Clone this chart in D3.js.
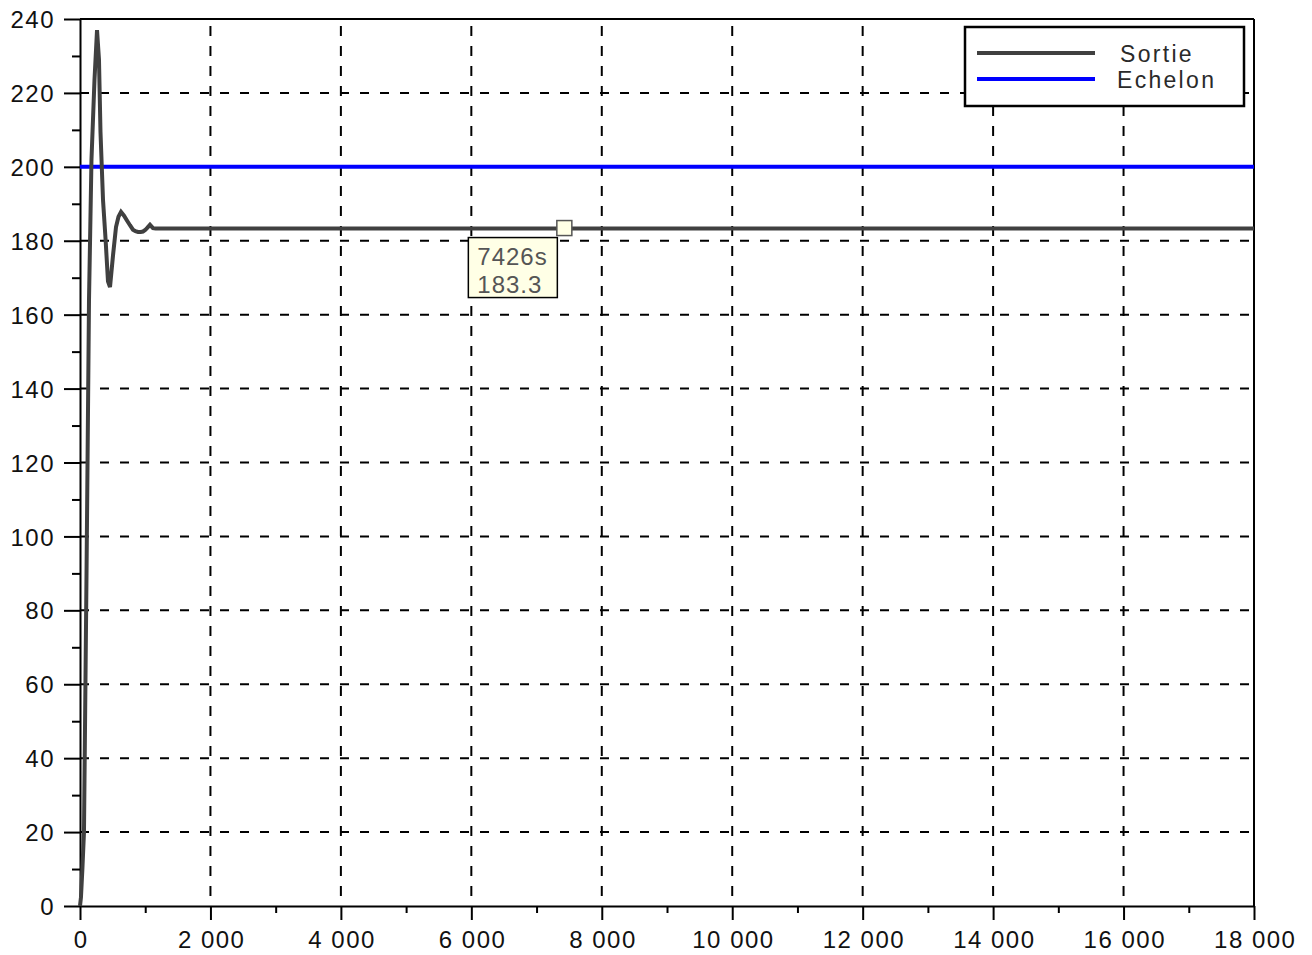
<!DOCTYPE html>
<html>
<head>
<meta charset="utf-8">
<script src="https://cdn.jsdelivr.net/npm/d3@7"></script>
<style>
  html, body { margin: 0; padding: 0; background: #fff; }
  svg { display: block; }
  text { font-family: "Liberation Sans", Arial, sans-serif; }
</style>
</head>
<body>
<svg id="chart" width="1312" height="955"></svg>
<script>
// ---- data ----
const sortieTime  = [0, 15, 38, 61, 100, 138, 176, 222, 261, 291, 314, 353, 391, 429, 460, 506, 552, 590, 629, 675, 720, 766, 812, 850, 890, 930, 966, 1000, 1027, 1073, 1119, 1160, 18000];
const sortieValue = [0, 2.4, 10.5, 20, 90, 164, 202, 223.5, 237, 229, 209.5, 191, 180.7, 169, 167.5, 176, 183.7, 186.5, 187.8, 186.8, 185.5, 184.2, 183, 182.6, 182.4, 182.4, 182.5, 182.9, 183.4, 184.3, 183.4, 183.3, 183.3];
const echelonTime  = [0, 18000];
const echelonValue = [200, 200];
const seriesNames  = ["Sortie", "Echelon"];
const xMajorTicks = [0, 2000, 4000, 6000, 8000, 10000, 12000, 14000, 16000, 18000];
const xMinorTicks = [1000, 3000, 5000, 7000, 9000, 11000, 13000, 15000, 17000];
const yMajorTicks = [0, 20, 40, 60, 80, 100, 120, 140, 160, 180, 200, 220, 240];
const yMinorTicks = [10, 30, 50, 70, 90, 110, 130, 150, 170, 190, 210, 230];
const datatip = { t: 7426, v: 183.3 };

// ---- layout ----
const L = 80, R = 1254, T = 19, B = 906;
const seriesColors = ["#404040", "#0000ff"];

const svg = d3.select("#chart");
const x = d3.scaleLinear().domain([0, 18000]).range([L, R]);
const y = d3.scaleLinear().domain([0, 240]).range([B, T]);

const loc = d3.formatLocale({ decimal: ".", thousands: " ", grouping: [3], currency: ["", ""] });
const fmt = loc.format(",d");

// grid
const grid = svg.append("g").attr("stroke", "#000").attr("stroke-width", 2).attr("fill", "none");
grid.selectAll("line.h").data(yMajorTicks.filter(v => v > 0 && v < 240)).enter().append("line")
  .attr("x1", L).attr("x2", R).attr("y1", d => y(d)).attr("y2", d => y(d))
  .attr("stroke-dasharray", "9,11");
grid.selectAll("line.v").data(xMajorTicks.filter(v => v > 0 && v < 18000)).enter().append("line")
  .attr("x1", d => x(d)).attr("x2", d => x(d)).attr("y1", B).attr("y2", T)
  .attr("stroke-dasharray", "10,10").attr("stroke-dashoffset", 10);

// frame (top and right)
svg.append("line").attr("x1", L).attr("x2", R).attr("y1", T).attr("y2", T).attr("stroke", "#000").attr("stroke-width", 2);
svg.append("line").attr("x1", R).attr("x2", R).attr("y1", T).attr("y2", B).attr("stroke", "#000").attr("stroke-width", 2);

// axes
function styleAxis(g) {
  g.select(".domain").attr("stroke", "#000").attr("stroke-width", 2);
  g.selectAll(".tick line").attr("stroke", "#000").attr("stroke-width", 2);
}
const xAxis = svg.append("g").attr("transform", `translate(0,${B})`)
  .call(d3.axisBottom(x).tickValues(xMajorTicks).tickSize(14).tickSizeOuter(0).tickFormat(fmt));
styleAxis(xAxis);
xAxis.selectAll(".tick text").attr("y", 42).attr("dy", 0).attr("dx", "0.75px")
  .attr("font-size", 24).attr("letter-spacing", "1.5px").attr("fill", "#111")
  .attr("font-family", '"Liberation Sans", Arial, sans-serif');
const xMinor = svg.append("g").attr("transform", `translate(0,${B})`)
  .call(d3.axisBottom(x).tickValues(xMinorTicks).tickSize(7).tickSizeOuter(0).tickFormat(""));
styleAxis(xMinor); xMinor.select(".domain").remove();

const yAxis = svg.append("g").attr("transform", `translate(${L},0)`)
  .call(d3.axisLeft(y).tickValues(yMajorTicks).tickSize(16).tickSizeOuter(0).tickFormat(fmt));
styleAxis(yAxis);
yAxis.selectAll(".tick text").attr("x", -25).attr("dy", "0.36em")
  .attr("font-size", 24).attr("letter-spacing", "1.5px").attr("fill", "#111")
  .attr("font-family", '"Liberation Sans", Arial, sans-serif');
const yMinor = svg.append("g").attr("transform", `translate(${L},0)`)
  .call(d3.axisLeft(y).tickValues(yMinorTicks).tickSize(8).tickSizeOuter(0).tickFormat(""));
styleAxis(yMinor); yMinor.select(".domain").remove();

// series
const line = d3.line().x(d => x(d[0])).y(d => y(d[1]));
svg.append("path").datum(echelonTime.map((t, i) => [t, echelonValue[i]]))
  .attr("d", line).attr("fill", "none").attr("stroke", seriesColors[1]).attr("stroke-width", 4);
svg.append("path").datum(sortieTime.map((t, i) => [t, sortieValue[i]]))
  .attr("d", line).attr("fill", "none").attr("stroke", seriesColors[0]).attr("stroke-width", 4)
  .attr("stroke-linejoin", "miter");

// legend
const lg = svg.append("g");
lg.append("rect").attr("x", 965).attr("y", 27).attr("width", 279).attr("height", 79)
  .attr("fill", "#fff").attr("stroke", "#000").attr("stroke-width", 2.5);
seriesNames.forEach((name, i) => {
  const ly = 53 + i * 26;
  lg.append("line").attr("x1", 977).attr("x2", 1095).attr("y1", ly).attr("y2", ly)
    .attr("stroke", seriesColors[i]).attr("stroke-width", 4);
  lg.append("text").attr("x", i === 0 ? 1120 : 1117).attr("y", ly + 8.5)
    .attr("font-size", 23).attr("letter-spacing", "2.3px").attr("fill", "#2a2a2a").text(name);
});

// datatip
const px = x(datatip.t), py = y(datatip.v);
const tip = svg.append("g");
tip.append("rect").attr("x", px - 96).attr("y", py + 9).attr("width", 89).attr("height", 60)
  .attr("fill", "#ffffe6").attr("stroke", "#000").attr("stroke-width", 1.5);
tip.append("text").attr("x", px - 87).attr("y", py + 36).attr("font-size", 24)
  .attr("letter-spacing", "1px").attr("fill", "#555").text(datatip.t + "s");
tip.append("text").attr("x", px - 87).attr("y", py + 64).attr("font-size", 24)
  .attr("letter-spacing", "1px").attr("fill", "#555").text(datatip.v.toFixed(1));
tip.append("rect").attr("x", px - 7.5).attr("y", py - 8).attr("width", 15).attr("height", 15)
  .attr("fill", "#ffffe6").attr("stroke", "#555").attr("stroke-width", 1.5);
</script>
</body>
</html>
